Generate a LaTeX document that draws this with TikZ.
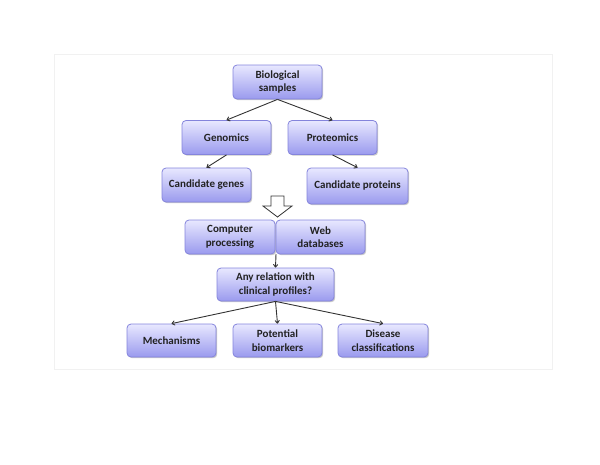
\documentclass[tikz,border=0pt]{standalone}
\usepackage{fontspec}
\setmainfont{Carlito}
\usetikzlibrary{shadows,arrows.meta}
\definecolor{boxtop}{HTML}{E8E8FF}
\definecolor{boxbot}{HTML}{9A9AEE}
\definecolor{boxline}{HTML}{8484DC}
\definecolor{txt}{HTML}{222222}
\definecolor{frame}{HTML}{F1F1F1}
\tikzset{
  box/.style={draw=boxline, line width=0.8pt, rounded corners=4pt,
    top color=boxtop, bottom color=boxbot,
    drop shadow={shadow xshift=1.2pt, shadow yshift=-1.2pt, opacity=0.35, fill=black!60},
    minimum height=34pt, inner sep=1pt, align=center, text=txt,
    font=\fontsize{11}{13.5}\selectfont\bfseries},
  conn/.style={draw=black!80, line width=0.9pt, -{To[length=3.5pt,width=5pt]}},
}
\begin{document}
\begin{tikzpicture}[x=1pt,y=-1pt]
\useasboundingbox (0,0) rectangle (600,464);
\draw[frame, line width=0.6pt] (54,54) rectangle (552,369);
\node[box, minimum width=89pt] (bio) at (277.5,82) {Biological\\samples};
\node[box, minimum width=89pt] (gen) at (226.5,137.5) {Genomics};
\node[box, minimum width=89pt] (prot) at (332.5,137.5) {Proteomics};
\node[box, minimum width=89pt] (cgen) at (206.5,185) {Candidate genes};
\node[box, minimum width=101pt, minimum height=36pt] (cprot) at (357.5,186) {Candidate proteins};
\draw[black!80, line width=0.8pt, fill=white]
  (271,196) -- (284,196) -- (284,206) -- (292,206) -- (277.5,217) -- (263,206) -- (271,206) -- cycle;
\node[box, minimum width=90pt] (comp) at (230,237) {Computer\\processing};
\node[box, minimum width=89pt] (web) at (320.5,237) {Web\\databases};
\coordinate (junc) at (276,254);
\node[box, minimum width=117pt, minimum height=33pt] (rel) at (275.5,284.5) {Any relation with\\clinical profiles?};
\node[box, minimum width=89pt, minimum height=33pt] (mech) at (171.5,340.5) {Mechanisms};
\node[box, minimum width=89pt, minimum height=33pt] (pot) at (277.5,340.5) {Potential\\biomarkers};
\node[box, minimum width=90pt, minimum height=33pt] (dis) at (383,340.5) {Disease\\classifications};
\draw[conn] (bio.south) -- (gen.north);
\draw[conn] (bio.south) -- (prot.north);
\draw[conn] (gen.south) -- (cgen.north);
\draw[conn] (prot.south) -- (cprot.north);
\draw[conn] (junc) -- (rel.north);
\draw[conn] (rel.south) -- (mech.north);
\draw[conn] (rel.south) -- (pot.north);
\draw[conn] (rel.south) -- (dis.north);
\end{tikzpicture}
\end{document}
